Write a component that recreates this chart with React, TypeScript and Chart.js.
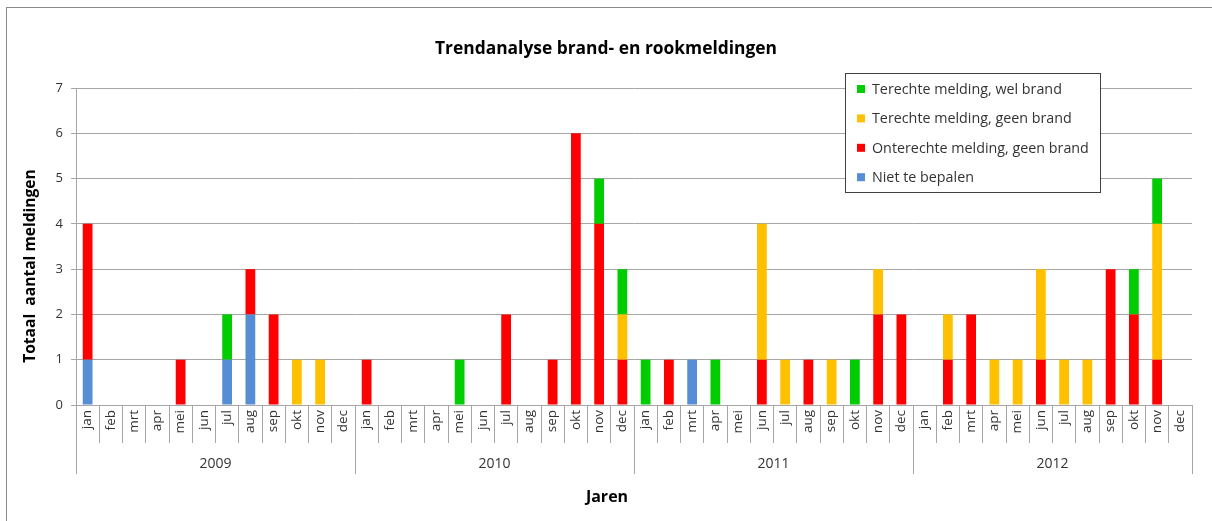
import React, { useEffect, useRef } from 'react';
import { Chart, registerables } from 'chart.js';

Chart.register(...registerables);

const months = ['jan', 'feb', 'mrt', 'apr', 'mei', 'jun', 'jul', 'aug', 'sep', 'okt', 'nov', 'dec'];
const years = ['2009', '2010', '2011', '2012'];
const categories = years.flatMap(() => months);

const nietTeBepalen = [
  1, 0, 0, 0, 0, 0, 1, 2, 0, 0, 0, 0,
  0, 0, 0, 0, 0, 0, 0, 0, 0, 0, 0, 0,
  0, 0, 1, 0, 0, 0, 0, 0, 0, 0, 0, 0,
  0, 0, 0, 0, 0, 0, 0, 0, 0, 0, 0, 0,
];
const onterechtGeenBrand = [
  3, 0, 0, 0, 1, 0, 0, 1, 2, 0, 0, 0,
  1, 0, 0, 0, 0, 0, 2, 0, 1, 6, 4, 1,
  0, 1, 0, 0, 0, 1, 0, 1, 0, 0, 2, 2,
  0, 1, 2, 0, 0, 1, 0, 0, 3, 2, 1, 0,
];
const terechtGeenBrand = [
  0, 0, 0, 0, 0, 0, 0, 0, 0, 1, 1, 0,
  0, 0, 0, 0, 0, 0, 0, 0, 0, 0, 0, 1,
  0, 0, 0, 0, 0, 3, 1, 0, 1, 0, 1, 0,
  0, 1, 0, 1, 1, 2, 1, 1, 0, 0, 3, 0,
];
const terechtWelBrand = [
  0, 0, 0, 0, 0, 0, 1, 0, 0, 0, 0, 0,
  0, 0, 0, 0, 1, 0, 0, 0, 0, 0, 1, 1,
  1, 0, 0, 1, 0, 0, 0, 0, 0, 1, 0, 0,
  0, 0, 0, 0, 0, 0, 0, 0, 0, 1, 1, 0,
];

const seriesLabels = [
  'Niet te bepalen',
  'Onterechte melding, geen brand',
  'Terechte melding, geen brand',
  'Terechte melding, wel brand',
];
const seriesColors = ['#558ED5', '#FF0000', '#FFC000', '#00CC00'];

const chartTitle = 'Trendanalyse brand- en rookmeldingen';
const yTitle = 'Totaal  aantal meldingen';
const xTitle = 'Jaren';

const FONT = "'Open Sans', Lato, sans-serif";
const GRID = '#a6a6a6';
const TEXT = '#333333';

const framePlugin = {
  id: 'frame',
  beforeDraw(chart: any) {
    const ctx = chart.ctx;
    ctx.save();
    ctx.fillStyle = '#ffffff';
    ctx.fillRect(0, 0, chart.width, chart.height);
    ctx.strokeStyle = '#8a8a8a';
    ctx.lineWidth = 1;
    ctx.strokeRect(6.5, 7.5, chart.width + 20, chart.height + 20);
    ctx.restore();
  },
};

const titlesPlugin = {
  id: 'titles',
  afterDraw(chart: any) {
    const ctx = chart.ctx;
    ctx.save();
    ctx.fillStyle = '#000000';
    ctx.textAlign = 'center';
    ctx.textBaseline = 'middle';
    ctx.font = `bold 17.4px ${FONT}`;
    ctx.fillText(chartTitle, 606, 49);
    ctx.font = `bold 16px ${FONT}`;
    ctx.fillText(xTitle, 607, 497);
    ctx.translate(31, 266);
    ctx.rotate(-Math.PI / 2);
    ctx.font = `bold 15.6px ${FONT}`;
    ctx.fillText(yTitle, 0, 0);
    ctx.restore();
  },
};

const boxLegendPlugin = {
  id: 'boxLegend',
  afterDraw(chart: any) {
    const ctx = chart.ctx;
    const items = chart.data.datasets.map((d: any) => ({ label: d.label, color: d.backgroundColor })).reverse();
    const x0 = 845.5;
    const y0 = 73.5;
    const w = 255;
    const h = 119;
    ctx.save();
    ctx.fillStyle = '#ffffff';
    ctx.fillRect(x0, y0, w, h);
    ctx.strokeStyle = '#404040';
    ctx.lineWidth = 1;
    ctx.strokeRect(x0, y0, w, h);
    ctx.font = `14.3px ${FONT}`;
    ctx.textBaseline = 'middle';
    ctx.textAlign = 'left';
    items.forEach((it: any, i: number) => {
      const cy = 89 + i * 29.4;
      ctx.fillStyle = it.color;
      ctx.fillRect(857, cy - 4, 8, 8);
      ctx.fillStyle = TEXT;
      ctx.fillText(it.label, 872, cy + 1);
    });
    ctx.restore();
  },
};

export default function App() {
  const canvasRef = useRef<HTMLCanvasElement>(null);

  useEffect(() => {
    document.body.style.margin = '0';
    const canvas = canvasRef.current;
    if (!canvas) return;
    const datasets = [nietTeBepalen, onterechtGeenBrand, terechtGeenBrand, terechtWelBrand].map((data, i) => ({
      label: seriesLabels[i],
      data,
      backgroundColor: seriesColors[i],
      borderWidth: 0,
      barPercentage: 0.42,
      categoryPercentage: 1,
      xAxisID: 'x',
    }));
    const chart = new Chart(canvas, {
      type: 'bar',
      data: { labels: categories, datasets },
      options: {
        responsive: false,
        animation: false,
        layout: { padding: { left: 0, right: 20, top: 88, bottom: 0 } },
        plugins: {
          legend: { display: false },
          tooltip: { enabled: false },
          title: { display: false },
        },
        scales: {
          x: {
            type: 'category',
            position: 'bottom',
            stacked: true,
            offset: true,
            weight: 1,
            grid: {
              offset: true,
              drawOnChartArea: false,
              drawTicks: true,
              tickLength: 38,
              color: GRID,
            },
            border: { display: true, color: GRID },
            ticks: {
              autoSkip: false,
              minRotation: 90,
              maxRotation: 90,
              padding: -33,
              color: TEXT,
              font: { family: FONT, size: 13.5 },
            },
            afterFit: (scale: any) => {
              scale.height = 38;
            },
          },
          x2: {
            type: 'category',
            position: 'bottom',
            labels: years,
            offset: true,
            weight: 2,
            grid: {
              offset: true,
              drawOnChartArea: false,
              drawTicks: true,
              tickLength: 31,
              color: GRID,
            },
            border: { display: false },
            ticks: {
              autoSkip: false,
              maxRotation: 0,
              minRotation: 0,
              padding: -18,
              color: TEXT,
              font: { family: FONT, size: 14 },
            },
            afterFit: (scale: any) => {
              scale.height = 78;
            },
          },
          y: {
            stacked: true,
            min: 0,
            max: 7,
            ticks: {
              stepSize: 1,
              padding: 8,
              color: TEXT,
              font: { family: FONT, size: 13 },
            },
            grid: { color: GRID, tickLength: 5 },
            border: { display: true, color: GRID },
            afterFit: (scale: any) => {
              scale.width = 76;
            },
          },
        },
      },
      plugins: [framePlugin, boxLegendPlugin, titlesPlugin],
    });
    return () => chart.destroy();
  }, []);

  return (
    <div style={{ width: 1212, height: 521 }}>
      <canvas ref={canvasRef} width={1212} height={521} style={{ display: 'block' }} />
    </div>
  );
}
